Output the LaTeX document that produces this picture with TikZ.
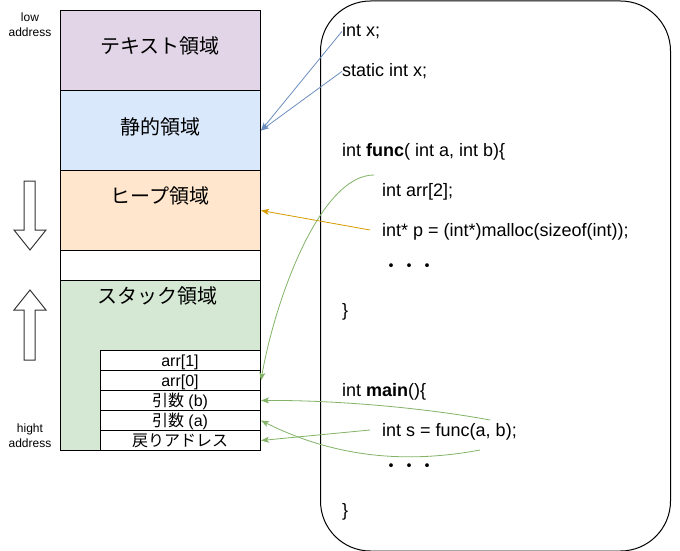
\documentclass[tikz,border=0pt]{standalone}
\usepackage{fontspec}
\setmainfont{Liberation Sans}
\newfontfamily\jp{Noto Sans CJK JP}
\usetikzlibrary{arrows.meta}
\definecolor{txtfill}{HTML}{E1D5E7}
\definecolor{statfill}{HTML}{DAE8FC}
\definecolor{heapfill}{HTML}{FFE6CC}
\definecolor{stackfill}{HTML}{D5E8D4}
\definecolor{bluel}{HTML}{6C8EBF}
\definecolor{orangel}{HTML}{D79B00}
\definecolor{greenl}{HTML}{82B366}
\begin{document}
\begin{tikzpicture}[x=1pt,y=-1pt,
  region/.style={draw=black,line width=1pt,anchor=north west,inner sep=0pt,minimum width=200pt,minimum height=80pt},
  cell/.style={draw=black,fill=white,line width=1pt,anchor=north west,inner sep=0pt,minimum width=160pt,minimum height=20pt},
  title/.style={inner sep=0pt,font=\jp\fontsize{20}{24}\selectfont},
  celltext/.style={inner sep=0pt,font=\fontsize{16}{19}\selectfont},
  code/.style={inner sep=0pt,anchor=base west,font=\fontsize{18}{22}\selectfont},
  side/.style={inner sep=0pt,align=center,font=\fontsize{12}{15}\selectfont},
  hollow/.style={draw=black!80,fill=white,line width=1pt},
  conn/.style={line width=0.8pt,-{Stealth[length=8pt,width=6pt,inset=2pt]}},
]
\useasboundingbox (0,0) rectangle (680,551);
\fill[white] (0,0) rectangle (680,551);
% memory regions
\node[region,fill=txtfill] (text) at (60,10) {};
\node[region,fill=statfill] (static) at (60,90) {};
\node[region,fill=heapfill] (heap) at (60,170) {};
\node[region,fill=white,minimum height=30pt] (gap) at (60,250) {};
\node[region,fill=stackfill,minimum height=170pt] (stack) at (60,280) {};
\node[title] (textlbl) at (160,46) {テキスト領域};
\node[title] (staticlbl) at (160,127) {静的領域};
\node[title] (heaplbl) at (160,196) {ヒープ領域};
\node[title] (stacklbl) at (157,296) {スタック領域};
% stack cells
\node[cell] (arr1) at (100,350) {};
\node[cell] (arr0) at (100,370) {};
\node[cell] (argb) at (100,390) {};
\node[cell] (arga) at (100,410) {};
\node[cell] (ret) at (100,430) {};
\node[celltext] at (180,362) {arr[1]};
\node[celltext] at (180,382) {arr[0]};
\node[celltext] at (180,401) {{\jp 引数} (b)};
\node[celltext] at (180,421) {{\jp 引数} (a)};
\node[celltext] at (180,441) {\jp 戻りアドレス};
% side labels
\node[side] (low) at (30,25) {low\\address};
\node[side] (high) at (30,436) {hight\\address};
\draw[hollow] (24,181) -- (35,181) -- (35,230) -- (46,230) -- (30,250) -- (14,230) -- (24,230) -- cycle;
\draw[hollow] (24,360) -- (35,360) -- (35,310) -- (46,310) -- (30,290) -- (14,310) -- (24,310) -- cycle;
% code box
\node[draw=black,line width=1pt,rounded corners=50pt,anchor=north west,inner sep=0pt,minimum width=350pt,minimum height=550pt] (codebox) at (320,0.5) {};
\node[code] (intx) at (342,36.7) {int x;};
\node[code] (sintx) at (342,76.7) {static int x;};
\node[code] (func) at (342,156.7) {int \textbf{func}( int a, int b)\{};
\node[code] (arr) at (382,196.7) {int arr[2];};
\node[code] (malloc) at (382,236.7) {int* p = (int*)malloc(sizeof(int));};
\node[code,anchor=west,font=\jp\fontsize{18}{22}\selectfont] (dots1) at (382,268) {・・・};
\node[code] (close1) at (342,316.7) {\}};
\node[code] (main) at (342,396.7) {int \textbf{main}()\{};
\node[code] (calls) at (382,436.7) {int s = func(a, b);};
\node[code,anchor=west,font=\jp\fontsize{18}{22}\selectfont] (dots2) at (382,468) {・・・};
\node[code] (close2) at (342,516.7) {\}};
% connectors
\coordinate (g1) at (374,175);
\coordinate (o1) at (370,230);
\coordinate (g2) at (490,420);
\coordinate (g3) at (370,430);
\coordinate (g4) at (480,450);
\draw[conn,bluel] (intx.west) -- (static.east);
\draw[conn,bluel] (sintx.west) -- (static.east);
\draw[conn,orangel] (o1) -- (heap.east);
\draw[conn,greenl] (g1) .. controls (320,175) and (275,300) .. (arr0.east);
\draw[conn,greenl] (g2) .. controls (420,407) and (330,400) .. (argb.east);
\draw[conn,greenl] (g3) -- (ret.east);
\draw[conn,greenl] (g4) .. controls (400,465) and (330,455) .. (arga.east);
\end{tikzpicture}
\end{document}
